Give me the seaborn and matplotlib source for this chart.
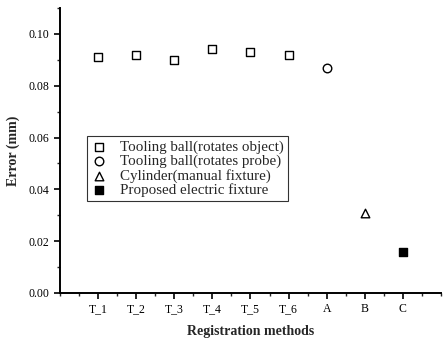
import matplotlib
matplotlib.use("Agg")
import matplotlib.pyplot as plt
import seaborn as sns
import pandas as pd
from matplotlib.ticker import MultipleLocator

methods = ["T_1", "T_2", "T_3", "T_4", "T_5", "T_6", "A", "B", "C"]
errors = [0.091, 0.092, 0.090, 0.094, 0.093, 0.092, 0.087, 0.031, 0.016]
groups = ["Tooling ball(rotates object)"] * 6 + ["Tooling ball(rotates probe)",
          "Cylinder(manual fixture)", "Proposed electric fixture"]
group_order = ["Tooling ball(rotates object)", "Tooling ball(rotates probe)",
               "Cylinder(manual fixture)", "Proposed electric fixture"]
group_markers = ["s", "o", "^", "s"]
group_faces = ["white", "white", "white", "black"]

df = pd.DataFrame({"method": methods, "error": errors, "group": groups})

sns.set_style("ticks")
plt.rcParams["font.family"] = ["Liberation Serif", "DejaVu Serif"]

fig = plt.figure(figsize=(4.43, 3.39), dpi=100)
ax = fig.add_axes([0.1354, 0.1357, 0.86, 0.8407])

for g, m, fc in zip(group_order, group_markers, group_faces):
    sub = df[df["group"] == g]
    sns.scatterplot(data=sub, x="method", y="error", ax=ax, marker=m,
                    facecolor=fc, edgecolor="black", linewidth=1.0, s=38,
                    label=g)

ax.set_xlim(-1, 9.0)
ax.set_ylim(0, 0.11)
ax.yaxis.set_major_locator(MultipleLocator(0.02))
ax.yaxis.set_minor_locator(MultipleLocator(0.01))
ax.xaxis.set_minor_locator(MultipleLocator(0.5))
ax.set_yticklabels([f"{v:.2f}" for v in ax.get_yticks()])
ax.tick_params(axis="both", which="major", direction="out", length=4, width=1.2,
               labelsize=8.5, colors="black")
ax.tick_params(axis="both", which="minor", direction="out", length=2.5, width=1)
sns.despine(ax=ax)
for sp in ["left", "bottom"]:
    ax.spines[sp].set_linewidth(1.4)
    ax.spines[sp].set_color("black")

ax.set_xlabel("Registration methods", fontsize=10, fontweight="bold", labelpad=7)
ax.set_ylabel("Error (mm)", fontsize=10, fontweight="bold", labelpad=6)

leg = ax.legend(loc="upper left", bbox_to_anchor=(0.07, 0.55), fontsize=10.8,
                frameon=True, fancybox=False, edgecolor="black",
                handletextpad=0.9, borderpad=0.3, labelspacing=0.02,
                handlelength=1.0, borderaxespad=0)
leg.get_frame().set_linewidth(0.8)

fig.savefig("out.png", dpi=100)
